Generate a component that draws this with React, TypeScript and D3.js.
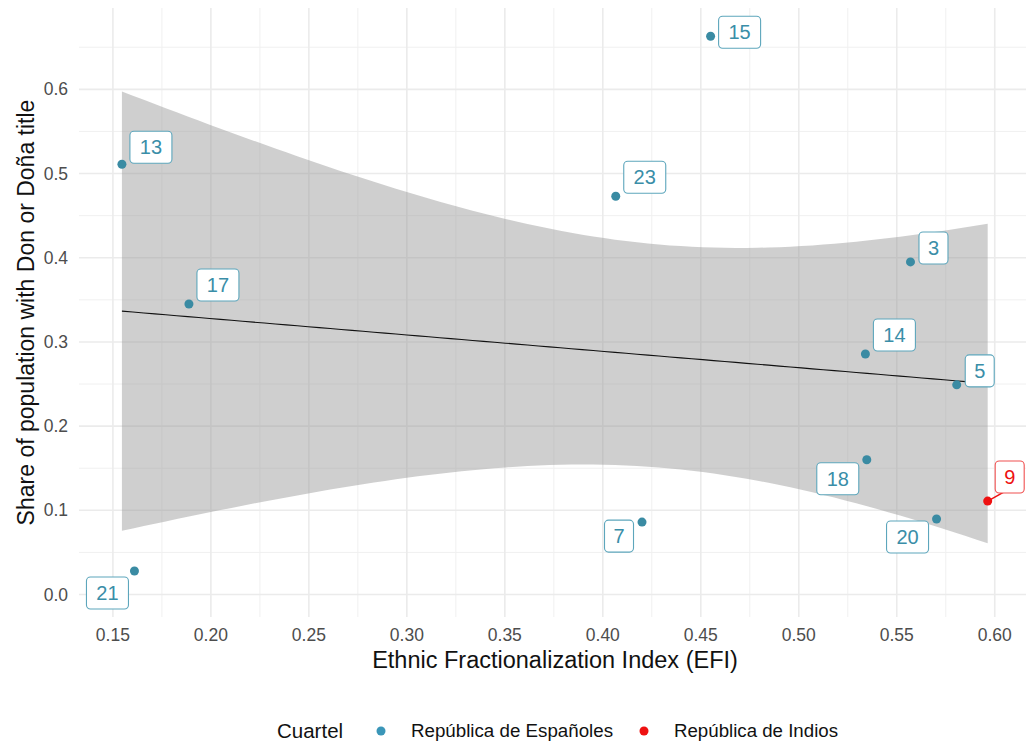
import * as d3 from "d3";
import { useEffect, useRef } from "react";

// cuartel id, EFI, share with Don/Doña title, group
const cuartels = ["13", "21", "17", "23", "7", "15", "14", "18", "3", "20", "5", "9"];
const efi = [0.1546, 0.161, 0.1888, 0.4066, 0.42, 0.455, 0.534, 0.5347, 0.557, 0.5703, 0.5806, 0.5964];
const donShare = [0.511, 0.028, 0.345, 0.473, 0.086, 0.663, 0.2856, 0.16, 0.395, 0.0897, 0.249, 0.111];
const groups = ["E", "E", "E", "E", "E", "E", "E", "E", "E", "E", "E", "I"];

const groupNames = ["República de Españoles", "República de Indios"];
const xTicks = [0.15, 0.2, 0.25, 0.3, 0.35, 0.4, 0.45, 0.5, 0.55, 0.6];
const yTicks = [0, 0.1, 0.2, 0.3, 0.4, 0.5, 0.6];

// label placement (px offsets from the point, like ggrepel result)
const labelNudge: [number, number][] = [
  [29, -17], [-27, 22], [29, -19], [29, -19], [-23, 14], [29, -4],
  [29, -19], [-29, 19], [23, -14], [-29, 18], [23, -14], [22, -24],
];

const T975 = 2.228; // t quantile, df = 10

const BLUE = "#3a8ba3";
const RED = "#ee1111";

const App = () => {
  const svgRef = useRef<SVGSVGElement>(null);

  useEffect(() => {
    const svg = d3.select(svgRef.current);
    svg.selectAll("*").remove();

    const W = 1026, H = 742;
    const left = 79, right = 1031, top = 8, bottom = 617;

    const x = d3.scaleLinear().domain([0.1327, 0.6185]).range([left, right]);
    const y = d3.scaleLinear().domain([-0.0267, 0.6966]).range([bottom, top]);

    svg.attr("width", W).attr("height", H).style("font-family", "'Liberation Sans', Arial, sans-serif");

    // grid
    const grid = svg.append("g");
    const xMinor = xTicks.map((t) => t - 0.025).concat([0.625]).filter((t) => t > 0.1327 && t < 0.6185);
    const yMinor = yTicks.map((t) => t + 0.05).filter((t) => t < 0.6966);
    grid.selectAll(".hmin").data(yMinor).enter().append("line")
      .attr("x1", left).attr("x2", right).attr("y1", (d) => y(d)).attr("y2", (d) => y(d))
      .attr("stroke", "#f0f0f0").attr("stroke-width", 1);
    grid.selectAll(".vmin").data(xMinor).enter().append("line")
      .attr("y1", top).attr("y2", bottom).attr("x1", (d) => x(d)).attr("x2", (d) => x(d))
      .attr("stroke", "#f0f0f0").attr("stroke-width", 1);
    grid.selectAll(".hmaj").data(yTicks).enter().append("line")
      .attr("x1", left).attr("x2", right).attr("y1", (d) => y(d)).attr("y2", (d) => y(d))
      .attr("stroke", "#ebebeb").attr("stroke-width", 1.6);
    grid.selectAll(".vmaj").data(xTicks).enter().append("line")
      .attr("y1", top).attr("y2", bottom).attr("x1", (d) => x(d)).attr("x2", (d) => x(d))
      .attr("stroke", "#ebebeb").attr("stroke-width", 1.6);

    // linear fit with 95% CI
    const n = efi.length;
    const mx = d3.mean(efi)!;
    const my = d3.mean(donShare)!;
    let sxx = 0, sxy = 0;
    efi.forEach((v, i) => {
      sxx += (v - mx) ** 2;
      sxy += (v - mx) * (donShare[i] - my);
    });
    const b = sxy / sxx;
    const a = my - b * mx;
    let sse = 0;
    efi.forEach((v, i) => (sse += (donShare[i] - (a + b * v)) ** 2));
    const s = Math.sqrt(sse / (n - 2));
    const [xmin, xmax] = d3.extent(efi) as [number, number];
    const fit = d3.range(80).map((i) => {
      const xv = xmin + ((xmax - xmin) * i) / 79;
      const yv = a + b * xv;
      const se = s * Math.sqrt(1 / n + (xv - mx) ** 2 / sxx);
      return { xv, yv, lo: yv - T975 * se, hi: yv + T975 * se };
    });

    svg.append("path")
      .datum(fit)
      .attr("d", d3.area<any>().x((d) => x(d.xv)).y0((d) => y(d.lo)).y1((d) => y(d.hi)))
      .attr("fill", "#999999").attr("fill-opacity", 0.47);
    svg.append("path")
      .datum(fit)
      .attr("d", d3.line<any>().x((d) => x(d.xv)).y((d) => y(d.yv)))
      .attr("fill", "none").attr("stroke", "#111").attr("stroke-width", 1.1);

    // axis labels
    svg.append("g").selectAll("text").data(xTicks).enter().append("text")
      .attr("x", (d) => x(d)).attr("y", 641).attr("text-anchor", "middle")
      .attr("font-size", 17.5).attr("fill", "#4d4d4d").text((d) => d3.format(".2f")(d));
    svg.append("g").selectAll("text").data(yTicks).enter().append("text")
      .attr("x", 68).attr("y", (d) => y(d) + 6).attr("text-anchor", "end")
      .attr("font-size", 17.5).attr("fill", "#4d4d4d").text((d) => d3.format(".1f")(d));

    svg.append("text").attr("x", (left + right) / 2).attr("y", 668).attr("text-anchor", "middle")
      .attr("font-size", 23.5).attr("fill", "#111").text("Ethnic Fractionalization Index (EFI)");
    svg.append("text").attr("transform", `translate(34,${(top + bottom) / 2}) rotate(-90)`)
      .attr("text-anchor", "middle").attr("font-size", 23).attr("fill", "#111")
      .text("Share of population with Don or Doña title");

    // points
    const col = (g: string) => (g === "E" ? BLUE : RED);
    svg.append("g").selectAll("circle").data(cuartels).enter().append("circle")
      .attr("cx", (_, i) => x(efi[i])).attr("cy", (_, i) => y(donShare[i])).attr("r", 4.5)
      .attr("fill", (_, i) => col(groups[i]));

    // labels
    const lab = svg.append("g");
    cuartels.forEach((c, i) => {
      const px = x(efi[i]), py = y(donShare[i]);
      const cx = px + labelNudge[i][0], cy = py + labelNudge[i][1];
      const w = c.length === 1 ? 29 : 42, h = 32;
      const stroke = groups[i] === "E" ? "#5da6bc" : "#f05050";
      const text = groups[i] === "E" ? "#3a8ea8" : RED;
      if (c === "9") {
        lab.append("line").attr("x1", px).attr("y1", py).attr("x2", cx - 6).attr("y2", cy + h / 2 - 1)
          .attr("stroke", RED).attr("stroke-width", 1.5);
      }
      lab.append("rect").attr("x", cx - w / 2).attr("y", cy - h / 2).attr("width", w).attr("height", h)
        .attr("rx", 4).attr("fill", "white").attr("stroke", stroke).attr("stroke-width", 1.1);
      lab.append("text").attr("x", cx).attr("y", cy + 7).attr("text-anchor", "middle")
        .attr("font-size", 20).attr("fill", text).text(c);
    });

    // legend
    const leg = svg.append("g");
    leg.append("text").attr("x", 277).attr("y", 738).attr("font-size", 20.5).attr("fill", "#111").text("Cuartel");
    const legX = [381, 644];
    const legLen = [202, 164];
    groupNames.forEach((g, i) => {
      leg.append("circle").attr("cx", legX[i]).attr("cy", 731).attr("r", 4.5)
        .attr("fill", i === 0 ? "#3a96b8" : RED);
      leg.append("text").attr("x", legX[i] + 30).attr("y", 737).attr("font-size", 17.5)
        .attr("textLength", legLen[i]).attr("lengthAdjust", "spacingAndGlyphs")
        .attr("fill", "#111").text(g);
    });
  }, []);

  return (
    <div>
      <svg ref={svgRef} width="1026" height="742" style={{ display: "block", position: "absolute", left: 0, top: 0 }}></svg>
    </div>
  );
};

export default App;
